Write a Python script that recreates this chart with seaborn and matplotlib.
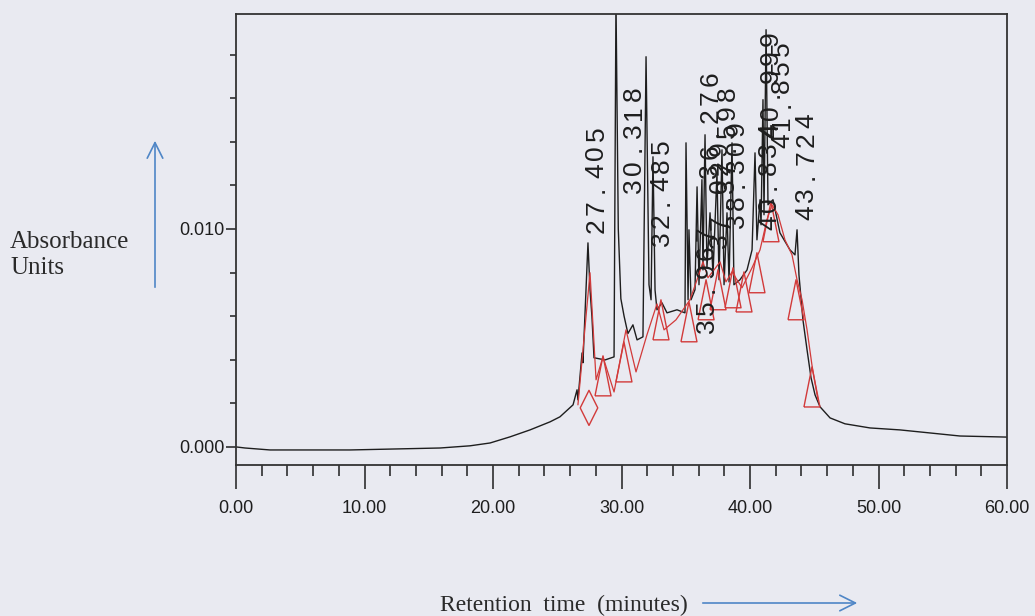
import matplotlib
matplotlib.use("Agg")
import pandas as pd
import matplotlib.pyplot as plt
from matplotlib.ticker import MultipleLocator, FormatStrFormatter
from matplotlib.patches import FancyArrowPatch
import seaborn as sns

# chromatogram trace (minutes, AU)
trace_time = [0.0, 0.7, 2.65, 4.98, 8.87, 12.76, 15.88, 18.21, 19.77, 21.32, 22.88, 24.44, 25.21,
              26.23, 26.54, 26.61, 26.93, 27.00, 27.39, 27.55, 27.70, 27.86, 28.72, 29.42, 29.57,
              29.75, 29.95, 30.2, 30.5, 30.89, 31.21, 31.67, 31.91, 32.14, 32.30, 32.45, 32.61,
              32.76, 33.15, 33.54, 34.32, 34.94, 35.02, 35.18, 35.25, 35.41, 35.72, 35.88, 36.03,
              36.26, 36.34, 36.50, 36.65, 36.89, 37.12, 37.43, 37.59, 37.82, 37.98, 38.21, 38.37,
              38.60, 38.75, 39.22, 39.77, 40.16, 40.39, 40.54, 40.78, 40.86, 41.01, 41.09, 41.25,
              41.40, 41.79, 42.33, 43.11, 43.50, 43.66, 43.81, 44.12, 44.44, 44.75, 45.06, 45.45,
              46.23, 47.39, 49.34, 51.67, 54.01, 56.34, 59.3, 60.0]
trace_abs = [0.0, -0.00005, -0.00014, -0.00014, -0.00014, -0.00009, -0.00005, 0.00005, 0.00018,
             0.00046, 0.00078, 0.00115, 0.00138, 0.00193, 0.00262, 0.00216, 0.00431, 0.00386,
             0.00936, 0.00721, 0.00597, 0.00409, 0.00399, 0.00413, 0.0205, 0.0100, 0.0068,
             0.0060, 0.0052, 0.0056, 0.00491, 0.00505, 0.0179, 0.00744, 0.00675, 0.01331, 0.0072,
             0.00629, 0.00661, 0.00615, 0.00629, 0.00615, 0.01395, 0.00675, 0.00996, 0.00675,
             0.00721, 0.01193, 0.00744, 0.01226, 0.00812, 0.01432, 0.00822, 0.01074, 0.00789,
             0.01258, 0.00767, 0.01363, 0.00744, 0.01074, 0.00757, 0.01395, 0.00744, 0.00767,
             0.00812, 0.00904, 0.01349, 0.0095, 0.01134, 0.01019, 0.01593, 0.01065, 0.01914,
             0.01111, 0.01134, 0.00982, 0.00904, 0.00881, 0.00996, 0.00789, 0.00583, 0.00445,
             0.00317, 0.00239, 0.00184, 0.00133, 0.00106, 0.00087, 0.00078, 0.00064, 0.0005,
             0.00046, 0.00045]

# red integration trace and its peak markers
red_time = [26.61, 27.55, 28.02, 28.56, 29.42, 30.35, 31.13, 31.98, 32.76, 33.31, 34.24, 35.33,
            35.88, 36.34, 36.73, 37.20, 37.67, 38.13, 38.60, 39.38, 40.16, 40.78, 41.32, 41.71,
            42.18, 42.72, 43.27, 43.66, 44.05, 44.44, 44.82, 45.29]
red_abs = [0.00193, 0.00799, 0.00308, 0.00413, 0.00252, 0.00537, 0.00344, 0.00514, 0.00656,
           0.00537, 0.00583, 0.00675, 0.00767, 0.00849, 0.00776, 0.00812, 0.00849, 0.00757,
           0.00803, 0.0073, 0.00822, 0.00904, 0.01042, 0.01111, 0.01065, 0.0095, 0.00881,
           0.00767, 0.00675, 0.00537, 0.00376, 0.00216]
tri_time = [28.56, 30.19, 33.07, 35.25, 36.58, 37.51, 38.68, 39.53, 40.54, 41.63, 43.58, 44.82]
tri_abs = [0.00326, 0.0039, 0.00583, 0.00574, 0.00675, 0.00721, 0.0073, 0.00711, 0.00799,
           0.01033, 0.00675, 0.00275]
diamond_time = [27.47]
diamond_abs = [0.00179]

# retention time labels: text, time, level where the text starts
peak_labels = ["27.405", "30.318", "32.485", "35.967", "36.276", "37.029", "37.598", "38.309",
               "40.834", "40.999", "41.855", "43.724"]
peak_label_time = [27.405, 30.318, 32.485, 35.967, 36.276, 37.029, 37.598, 38.309, 40.834,
                   40.999, 41.855, 43.724]
peak_label_base = [0.00973, 0.01157, 0.00913, 0.00514, 0.01226, 0.00904, 0.01157, 0.00996,
                   0.00987, 0.01409, 0.01363, 0.01033]

BG = "#e9eaf1"
RED = "#d23a3a"
BLUE = "#4f86c6"
INK = "#1e1e1e"

sns.set_theme(style="white", rc={"axes.facecolor": BG, "figure.facecolor": BG})
NARROW = ["Liberation Sans Narrow", "Liberation Sans", "DejaVu Sans"]
plt.rcParams["font.family"] = NARROW

fig = plt.figure(figsize=(10.35, 6.16), dpi=100)
ax = fig.add_axes([236 / 1035, 1 - 465 / 616, 771 / 1035, 451 / 616])

df = pd.DataFrame({"time": trace_time, "au": trace_abs})
sns.lineplot(data=df, x="time", y="au", sort=False, estimator=None, color=INK, lw=1.0, ax=ax)
sns.lineplot(x=red_time, y=red_abs, sort=False, estimator=None, color=RED, lw=0.9, ax=ax)

tall_tri = [(-0.2, -0.5), (0.2, -0.5), (0.0, 0.5), (-0.2, -0.5)]
diamond = [(0.0, -0.5), (0.25, 0.0), (0.0, 0.5), (-0.25, 0.0), (0.0, -0.5)]
ax.scatter(tri_time, tri_abs, marker=tall_tri, s=830, facecolor="none", edgecolor=RED,
           linewidth=1.0, zorder=3)
ax.scatter(diamond_time, diamond_abs, marker=diamond, s=640, facecolor="none", edgecolor=RED,
           linewidth=1.0, zorder=3)

# peak labels, one spaced character at a time, reading upward
pitch = 13.2
for lab, t, a in zip(peak_labels, peak_label_time, peak_label_base):
    for i, ch in enumerate(lab):
        ax.annotate(ch, xy=(t, a), xytext=(6, (i + 0.5) * pitch), textcoords="offset points",
                    rotation=90, ha="center", va="center", fontsize=19, color=INK,
                    family=NARROW, annotation_clip=False)

ax.set_xlim(0, 60)
ax.set_ylim(-0.00083, 0.01986)
ax.xaxis.set_major_locator(MultipleLocator(10))
ax.xaxis.set_minor_locator(MultipleLocator(2))
ax.xaxis.set_major_formatter(FormatStrFormatter("%.2f"))
ax.yaxis.set_major_locator(MultipleLocator(0.01))
ax.yaxis.set_minor_locator(MultipleLocator(0.002))
ax.yaxis.set_major_formatter(FormatStrFormatter("%.3f"))
ax.tick_params(which="both", bottom=True, left=True, top=False, right=False,
               direction="out", colors=INK, width=1.1)
ax.tick_params(axis="x", which="major", length=17, pad=8, labelsize=13)
ax.tick_params(axis="x", which="minor", length=8)
ax.tick_params(axis="y", which="major", length=7, pad=1, labelsize=13)
ax.tick_params(axis="y", which="minor", length=4)
ax.set_xlabel("")
ax.set_ylabel("")
for sp in ax.spines.values():
    sp.set_visible(True)
    sp.set_color("#333333")
    sp.set_linewidth(1.3)

fig.text(10 / 1035, 1 - 255 / 616, "Absorbance\nUnits", ha="left", va="center",
         family="Liberation Serif", fontsize=18, color="#2a2a2a", linespacing=1.25)
fig.text(440 / 1035, 0.0, "Retention  time  (minutes)", ha="left", va="bottom",
         family="Liberation Serif", fontsize=17, color="#2a2a2a")

fig.add_artist(FancyArrowPatch((155 / 1035, 1 - 290 / 616), (155 / 1035, 1 - 138 / 616),
                               transform=fig.transFigure, arrowstyle="->,head_length=0.7,head_width=0.35",
                               mutation_scale=16, color=BLUE, lw=1.2))
fig.add_artist(FancyArrowPatch((700 / 1035, 1 - 603 / 616), (860 / 1035, 1 - 603 / 616),
                               transform=fig.transFigure, arrowstyle="->,head_length=0.7,head_width=0.35",
                               mutation_scale=16, color=BLUE, lw=1.2))

fig.savefig("out.png", dpi=100, facecolor=BG)
